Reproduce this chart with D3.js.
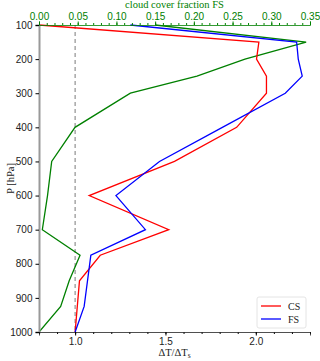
<!DOCTYPE html>
<html>
<head>
<meta charset="utf-8">
<script src="https://cdn.jsdelivr.net/npm/d3@7"></script>
<style>
  body { margin: 0; background: #fff; }
  svg { font-family: "Liberation Serif", "DejaVu Serif", serif; }
</style>
</head>
<body>
<svg id="chart" width="320" height="361"></svg>
<script>
// pressure levels and values
var csLevels = [100, 150, 200, 250, 300, 400, 500, 600, 700, 775, 850, 1000];
var csValues = [0.80, 2.017, 2.004, 2.059, 2.059, 1.894, 1.55, 1.078, 1.518, 1.139, 1.024, 1.0];

var fsLevels = [100, 150, 200, 250, 300, 400, 500, 600, 700, 775, 925, 1000];
var fsValues = [1.306, 2.226, 2.235, 2.257, 2.163, 1.815, 1.467, 1.226, 1.389, 1.087, 1.05, 1.0];

var cfLevels = [100, 150, 200, 250, 300, 400, 500, 600, 700, 775, 850, 925, 1000];
var cfValues = [0.15, 0.345, 0.266, 0.204, 0.118, 0.0465, 0.0164, 0.011, 0.0043, 0.053, 0.039, 0.028, 0.0];

var pTicks = [100, 200, 300, 400, 500, 600, 700, 800, 900, 1000];
var dtTicks = [1.0, 1.5, 2.0];
var cfTicks = [0, 0.05, 0.1, 0.15, 0.2, 0.25, 0.3, 0.35];

var legendNames = ["CS", "FS"];
var legendColors = ["#ff0000", "#0000ff"];

var m = {left: 39, right: 310, top: 25, bottom: 332};
var svg = d3.select("#chart");

var x = d3.scaleLinear().domain([0.8, 2.3]).range([m.left, m.right]);
var xc = d3.scaleLinear().domain([0, 0.35]).range([m.left, m.right]);
var y = d3.scaleLinear().domain([100, 1000]).range([m.top, m.bottom]);

svg.append("defs").append("clipPath").attr("id", "clip")
  .append("rect")
  .attr("x", m.left).attr("y", m.top - 1)
  .attr("width", m.right - m.left + 2).attr("height", m.bottom - m.top + 2);

// dashed reference at 1.0
svg.append("line")
  .attr("x1", x(1.0)).attr("x2", x(1.0))
  .attr("y1", m.top).attr("y2", m.bottom)
  .attr("stroke", "#999").attr("stroke-width", 1.3)
  .attr("stroke-dasharray", "4,3");

var plot = svg.append("g").attr("clip-path", "url(#clip)");

function drawLine(levels, vals, xs, color){
  var pts = levels.map(function(p, i){ return [xs(vals[i]), y(p)]; });
  plot.append("path")
    .attr("d", d3.line()(pts))
    .attr("fill", "none")
    .attr("stroke", color)
    .attr("stroke-width", 1.3)
    .attr("stroke-linejoin", "miter");
}

drawLine(cfLevels, cfValues, xc, "#008000");
drawLine(csLevels, csValues, x, "#ff0000");
drawLine(fsLevels, fsValues, x, "#0000ff");

// left axis
var yAxis = svg.append("g").attr("transform", "translate(" + m.left + ",0)")
  .call(d3.axisLeft(y).tickValues(pTicks).tickSize(3.5).tickPadding(3).tickFormat(d3.format("d")));
yAxis.select(".domain").attr("stroke", "#999").attr("stroke-width", 2);
yAxis.selectAll("text").attr("font-size", 10).attr("fill", "#222");

// bottom axis
var xMinor = d3.range(8, 24).map(function(d){ return d / 10; });
svg.append("g").attr("transform", "translate(0," + m.bottom + ")")
  .call(d3.axisBottom(x).tickValues(xMinor).tickSize(2).tickFormat(""))
  .select(".domain").remove();
var xAxis = svg.append("g").attr("transform", "translate(0," + m.bottom + ")")
  .call(d3.axisBottom(x).tickValues(dtTicks).tickSize(3.5).tickPadding(2).tickFormat(d3.format(".1f")));
xAxis.select(".domain").attr("stroke", "#222").attr("stroke-width", 0.8);
xAxis.selectAll("text").attr("font-size", 10).attr("fill", "#222");

// top axis (cloud fraction)
var cMinor = d3.range(0, 36).map(function(d){ return d / 100; });
svg.append("g").attr("transform", "translate(0," + m.top + ")")
  .call(d3.axisTop(xc).tickValues(cMinor).tickSize(2).tickFormat(""))
  .call(function(g){ g.select(".domain").remove(); g.selectAll("line").attr("stroke", "#008000"); });
var cAxis = svg.append("g").attr("transform", "translate(0," + m.top + ")")
  .call(d3.axisTop(xc).tickValues(cfTicks).tickSize(3.5).tickPadding(1.5).tickFormat(d3.format(".2f")));
cAxis.select(".domain").attr("stroke", "#008000").attr("stroke-width", 0.8);
cAxis.selectAll("line").attr("stroke", "#008000");
cAxis.selectAll("text").attr("font-size", 10).attr("fill", "#008000");

// labels
svg.append("text")
  .attr("x", (m.left + m.right) / 2).attr("y", 8)
  .attr("text-anchor", "middle").attr("font-size", 10.5).attr("fill", "#008000")
  .text("cloud cover fraction FS");

svg.append("text")
  .attr("transform", "translate(14," + ((m.top + m.bottom) / 2) + ") rotate(-90)")
  .attr("text-anchor", "middle").attr("font-size", 10.5).attr("fill", "#222")
  .text("P [hPa]");

var xl = svg.append("text")
  .attr("x", (m.left + m.right) / 2).attr("y", 356)
  .attr("text-anchor", "middle").attr("font-size", 10.5).attr("fill", "#222");
xl.append("tspan").text("\u0394T/\u0394T");
xl.append("tspan").attr("font-size", 7.5).attr("dy", 2).text("s");

// legend
var lg = svg.append("g").attr("transform", "translate(257,297)");
lg.append("rect").attr("width", 49).attr("height", 31).attr("rx", 2)
  .attr("fill", "#fff").attr("fill-opacity", 0.8)
  .attr("stroke", "#ddd").attr("stroke-width", 0.8);
legendNames.forEach(function(name, i){
  var yy = 9 + i * 13;
  lg.append("line").attr("x1", 4).attr("x2", 24).attr("y1", yy).attr("y2", yy)
    .attr("stroke", legendColors[i]).attr("stroke-width", 1.3);
  lg.append("text").attr("x", 31).attr("y", yy + 4)
    .attr("font-size", 10).attr("fill", "#222").text(name);
});
</script>
</body>
</html>
